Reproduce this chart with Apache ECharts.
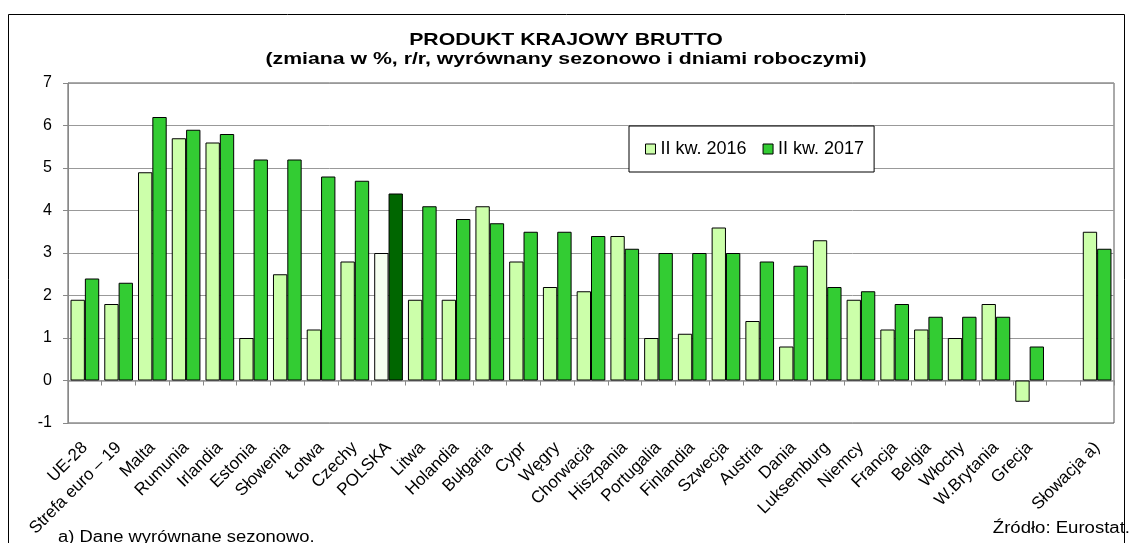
<!DOCTYPE html>
<html lang="pl">
<head>
    <meta charset="UTF-8">
    <title>PKB</title>
    <script src="https://cdn.jsdelivr.net/npm/echarts@6/dist/echarts.min.js"></script>
    <style>
        html, body {margin: 0; padding: 0; background: #fff;}
        #main {width: 1133px; height: 543px;}
    </style>
</head>
<body>
<div id="main"></div>
<script>
    var countries = ['UE-28', 'Strefa euro – 19', 'Malta', 'Rumunia', 'Irlandia', 'Estonia', 'Słowenia', 'Łotwa',
        'Czechy', 'POLSKA', 'Litwa', 'Holandia', 'Bułgaria', 'Cypr', 'Węgry', 'Chorwacja', 'Hiszpania',
        'Portugalia', 'Finlandia', 'Szwecja', 'Austria', 'Dania', 'Luksemburg', 'Niemcy', 'Francja', 'Belgia',
        'Włochy', 'W.Brytania', 'Grecja', '', 'Słowacja a)'];
    var q2_2016 = [1.9, 1.8, 4.9, 5.7, 5.6, 1.0, 2.5, 1.2, 2.8, 3.0, 1.9, 1.9, 4.1, 2.8, 2.2, 2.1, 3.4,
        1.0, 1.1, 3.6, 1.4, 0.8, 3.3, 1.9, 1.2, 1.2, 1.0, 1.8, -0.5, '-', 3.5];
    var q2_2017 = [2.4, 2.3, 6.2, 5.9, 5.8, 5.2, 5.2, 4.8, 4.7, 4.4, 4.1, 3.8, 3.7, 3.5, 3.5, 3.4, 3.1,
        3.0, 3.0, 3.0, 2.8, 2.7, 2.2, 2.1, 1.8, 1.5, 1.5, 1.5, 0.8, '-', 3.1];

    var polska = countries.indexOf('POLSKA');

    // Polska wyróżniona innym kolorem
    function withHighlight(values, color) {
        return values.map(function (v, i) {
            if (i === polska) {
                return {value: v, itemStyle: {color: color}};
            }
            return v;
        });
    }

    var font = 'Liberation Sans, Arial, sans-serif';
    var myChart = echarts.init(document.getElementById('main'));

    // tekst poszerzony jak w oryginale
    function wideText(text, x, y, size, weight, align, vAlign, sx) {
        return {
            type: 'text',
            x: x,
            y: y,
            scaleX: sx,
            silent: true,
            style: {
                text: text,
                fill: '#000',
                font: weight + ' ' + size + 'px ' + font,
                textAlign: align,
                textVerticalAlign: vAlign
            }
        };
    }

    var option = {
        backgroundColor: '#fff',
        animation: false,
        textStyle: {fontFamily: font},
        legend: {
            data: ['II kw. 2016', 'II kw. 2017'],
            left: 629,
            top: 126,
            padding: [14, 10, 14, 16],
            backgroundColor: '#fff',
            borderColor: '#000',
            borderWidth: 1,
            itemWidth: 10,
            itemHeight: 10,
            itemGap: 16,
            icon: 'rect',
            textStyle: {fontSize: 18, color: '#000'},
            itemStyle: {borderColor: '#000', borderWidth: 1}
        },
        grid: {
            left: 68,
            right: 19,
            top: 83,
            bottom: 120,
            outerBoundsMode: 'none',
            show: true,
            borderColor: '#555',
            borderWidth: 1
        },
        xAxis: {
            type: 'category',
            data: countries,
            axisLine: {onZero: true, lineStyle: {color: '#999', width: 1.5}},
            axisTick: {show: true, length: 5, lineStyle: {color: '#888'}},
            axisLabel: {
                rotate: 45,
                interval: 0,
                fontSize: 17,
                color: '#000',
                margin: 22
            },
            splitLine: {show: false}
        },
        yAxis: {
            type: 'value',
            min: -1,
            max: 7,
            interval: 1,
            axisLine: {show: true, lineStyle: {color: '#888'}},
            axisTick: {show: true, length: 5, lineStyle: {color: '#888'}},
            axisLabel: {fontSize: 16, color: '#000', margin: 16},
            splitLine: {lineStyle: {color: '#999', width: 1}}
        },
        series: [
            {
                name: 'II kw. 2016',
                type: 'bar',
                data: withHighlight(q2_2016, '#f6fff0'),
                barGap: '0%',
                barCategoryGap: '15%',
                itemStyle: {color: '#ccffaa', borderColor: '#000', borderWidth: 1}
            },
            {
                name: 'II kw. 2017',
                type: 'bar',
                data: withHighlight(q2_2017, '#006600'),
                itemStyle: {color: '#33cc33', borderColor: '#000', borderWidth: 1}
            }
        ],
        graphic: [
            {
                type: 'rect',
                shape: {x: 8.5, y: 14.5, width: 1116, height: 540},
                style: {fill: null, stroke: '#000', lineWidth: 1},
                silent: true
            },
            wideText('PRODUKT KRAJOWY BRUTTO', 566, 40, 17, 'bold', 'center', 'middle', 1.25),
            wideText('(zmiana w %, r/r, wyrównany sezonowo i dniami roboczymi)', 566, 59, 17, 'bold', 'center', 'middle', 1.25),
            wideText('a) Dane wyrównane sezonowo.', 58, 538, 16, 'normal', 'left', 'middle', 1.15),
            wideText('Źródło: Eurostat.', 1130, 529, 16, 'normal', 'right', 'middle', 1.16)
        ]
    };

    myChart.setOption(option);
</script>
</body>
</html>
